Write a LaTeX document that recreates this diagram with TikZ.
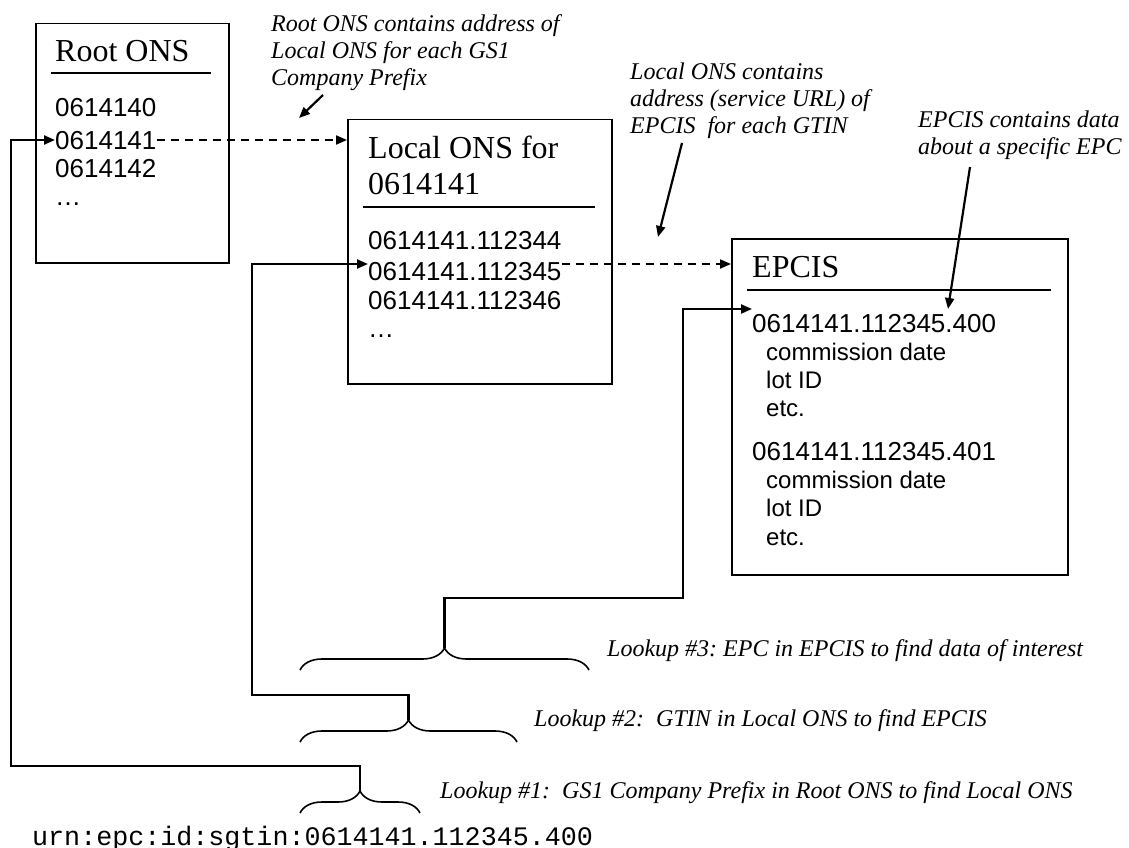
\documentclass[tikz,border=0pt]{standalone}
\usepackage{fontspec}
\setmainfont{Liberation Serif}
\setsansfont{Liberation Sans}
\setmonofont{Liberation Mono}
\usetikzlibrary{arrows.meta,decorations.pathreplacing}

\begin{document}
\frenchspacing
\begin{tikzpicture}[x=1pt,y=-1pt,>={Triangle[length=11pt,width=9pt]},line join=miter]
  \tikzstyle{box}=[draw,line width=1.5pt,anchor=north west,inner sep=0pt]
  \tikzstyle{title}=[anchor=base west,inner sep=0pt,font=\fontsize{32}{36}\selectfont]
  \tikzstyle{entry}=[anchor=west,inner sep=0pt,text height=18.6pt,text depth=0pt,font=\sffamily\fontsize{26}{30}\selectfont]
  \tikzstyle{sub}=[anchor=west,inner sep=0pt,text height=17.2pt,text depth=0pt,font=\sffamily\fontsize{24}{28}\selectfont]
  \tikzstyle{note}=[anchor=base west,inner sep=0pt,align=left,font=\itshape\fontsize{24}{27}\selectfont]
  \tikzstyle{link}=[->,line width=2.2pt]
  \tikzstyle{lookup}=[->,line width=2pt,dash pattern=on 8pt off 6pt]
  \tikzstyle{rule}=[line width=2pt]
  \tikzstyle{curly}=[decorate,decoration={brace,amplitude=22pt},line width=1.6pt]
  \useasboundingbox (0,0) rectangle (1129,848);

  % the three lookup servers
  \node[box,minimum width=193pt,minimum height=239pt] (root)  at (35,23)   {};
  \node[box,minimum width=264pt,minimum height=264pt] (local) at (347,119) {};
  \node[box,minimum width=336pt,minimum height=336pt] (epcis) at (731,238) {};

  \node[title] (roottitle) at (55,62)   {Root ONS};
  \node[title] (localtitle) at (368,158) {Local ONS for};
  \node[title] (localtitleb) at (368,194) {0614141};
  \node[title] (epcistitle) at (752,277) {EPCIS};
  \draw[rule] (51,73) -- (211,73);
  \draw[rule] (363,207) -- (595,207);
  \draw[rule] (747,290) -- (1051,290);

  \node[entry] (r140) at (55,107) {0614140};
  \node[entry] (r141) at (55,140) {0614141};
  \node[entry] (r142) at (55,168) {0614142};
  \node[entry] (rdots) at (55,196) {…};

  \node[entry] (l344) at (368,240) {0614141.112344};
  \node[entry] (l345) at (368,271) {0614141.112345};
  \node[entry] (l346) at (368,300) {0614141.112346};
  \node[entry] (ldots) at (368,328) {…};

  \node[entry] (e400) at (752,323) {0614141.112345.400};
  \node[sub] (e400a) at (766,352) {commission date};
  \node[sub] (e400b) at (766,380) {lot ID};
  \node[sub] (e400c) at (766,408) {etc.};
  \node[entry] (e401) at (752,451) {0614141.112345.401};
  \node[sub] (e401a) at (766,480) {commission date};
  \node[sub] (e401b) at (766,508) {lot ID};
  \node[sub] (e401c) at (766,537) {etc.};

  % dashed references between servers
  \draw[lookup] (r141.east) -- (r141.east -| local.west);
  \draw[lookup] ([yshift=7pt]l345.east) -- ([yshift=7pt]l345.east -| epcis.west);

  % notes (anchored on their last line)
  \node[note] (rootnote) at (271,86) {Root ONS contains address of\\Local ONS for each GS1\\Company Prefix};
  \node[note] (localnote) at (630,133) {Local ONS contains\\address (service URL) of\\EPCIS~ for each GTIN};
  \node[note] (epcisnote) at (918,154) {EPCIS contains data\\about a specific EPC};
  \coordinate (rn1) at (323,95);
  \coordinate (rn2) at (299,118);
  \coordinate (ln1) at (682,143);
  \coordinate (ln2) at (658,237);
  \coordinate (en1) at (970,167);
  \draw[link] (rn1) -- (rn2);
  \draw[link] (ln1) -- (ln2);
  \draw[link] (en1) -- ([yshift=14pt]e400.west -| 948,0);

  % the EPC and its three lookups
  \node[anchor=base west,inner sep=0pt,font=\ttfamily\fontsize{26.7}{30}\selectfont] (urn) at (32,845) {urn:epc:id:sgtin:0614141.112345.400};
  \draw[curly] (300,670) -- (589,670);
  \draw[curly] (300,742) -- (517,742);
  \draw[curly] (300,813) -- (420,813);
  \coordinate (tip3) at (444.5,648);
  \coordinate (tip2) at (408.5,720);
  \coordinate (tip1) at (360,791);
  \coordinate (k3) at (683,598);
  \coordinate (k2) at (252,695);
  \coordinate (k1) at (11,766);
  \draw[link] (tip3) |- (k3) |- ([yshift=14pt]e400.west);
  \draw[link] (tip2) |- (k2) |- ([yshift=7pt]l345.west);
  \draw[link] (tip1) |- (k1) |- (r141.west);

  \node[note] (look3) at (607,656) {Lookup \#3: EPC in EPCIS to find data of interest};
  \node[note] (look2) at (534,726) {Lookup \#2:~ GTIN in Local ONS to find EPCIS};
  \node[note] (look1) at (440,798) {Lookup \#1:~ GS1 Company Prefix in Root ONS to find Local ONS};
\end{tikzpicture}
\end{document}
